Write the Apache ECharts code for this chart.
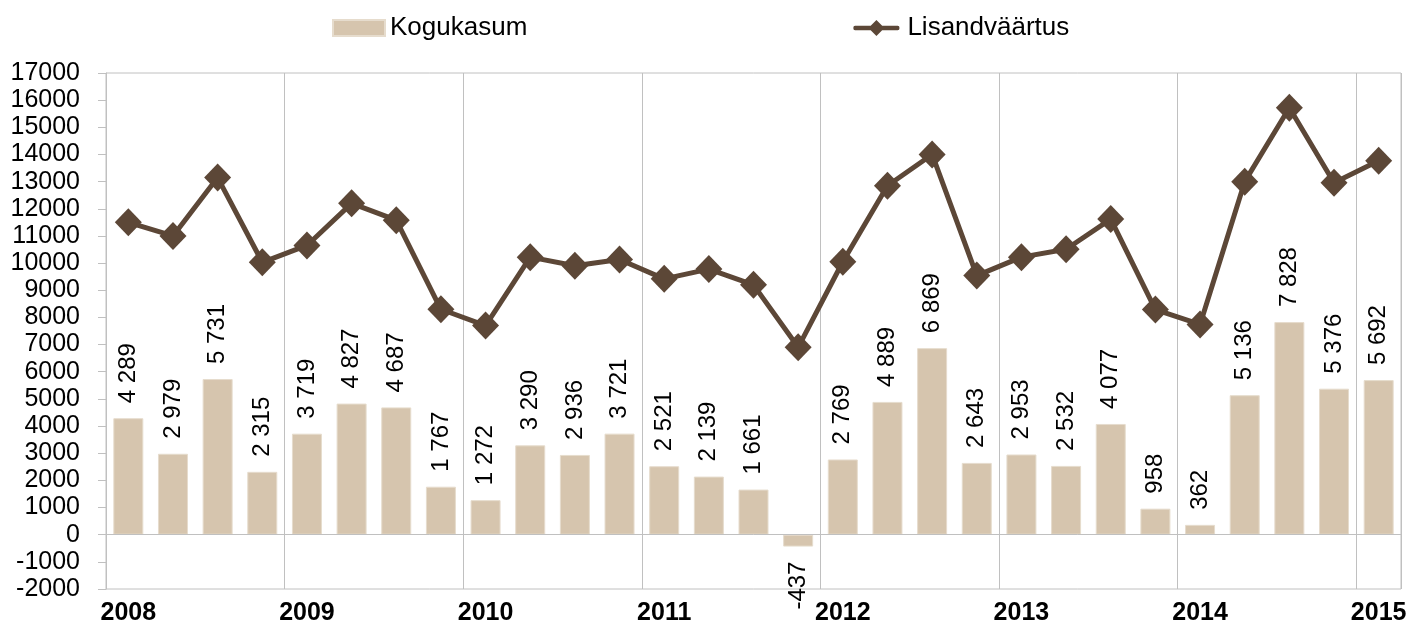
<!DOCTYPE html>
<html>
<head>
<meta charset="utf-8">
<script src="https://cdn.jsdelivr.net/npm/echarts@6/dist/echarts.min.js"></script>
<style>
  html, body { margin: 0; padding: 0; background: #fff; }
  #chart { width: 1410px; height: 626px; }
</style>
</head>
<body>
<div id="chart"></div>
<script>
// kvartalid 2008 I ... 2015 I
var years = ['2008', '2009', '2010', '2011', '2012', '2013', '2014', '2015'];
var quarters = [];
for (var y = 0; y < years.length; y++) {
    for (var q = 1; q <= 4; q++) {
        if (years[y] == '2015' && q > 1) break;
        quarters.push(years[y] + ' Q' + q);
    }
}

var kogukasum = [
    4289, 2979, 5731, 2315,
    3719, 4827, 4687, 1767,
    1272, 3290, 2936, 3721,
    2521, 2139, 1661, -437,
    2769, 4889, 6869, 2643,
    2953, 2532, 4077, 958,
    362, 5136, 7828, 5376,
    5692
];

var lisandvaartus = [
    11500, 11000, 13150, 10030,
    10650, 12200, 11580, 8300,
    7700, 10220, 9900, 10130,
    9420, 9780, 9200, 6900,
    10050, 12850, 14000, 9540,
    10220, 10510, 11620, 8290,
    7740, 13000, 15720, 12960,
    13770
];

var yMin = -2000, yMax = 17000, yStep = 1000;

var textFont = '"Liberation Sans", Arial, sans-serif';
var barColor = '#d6c5ae';
var lineColor = '#5c4737';
var gridColor = '#c0c0c0';

function fmt(v) {
    var s = String(Math.abs(v)).replace(/\B(?=(\d{3})+(?!\d))/g, ' ');
    return (v < 0 ? '-' : '') + s;
}

// negatiivse tulba silt läheb tulba alla
var barData = kogukasum.map(function (v) {
    if (v < 0) {
        return {
            value: v,
            label: { position: 'bottom', align: 'right' }
        };
    }
    return v;
});

var chart = echarts.init(document.getElementById('chart'));

var option = {
    backgroundColor: '#fff',
    animation: false,
    textStyle: { fontFamily: textFont },
    legend: {
        left: 332,
        top: 15,
        padding: 0,
        itemWidth: 52,
        itemHeight: 16,
        itemGap: 326,
        textStyle: { fontSize: 26, color: '#000', fontFamily: textFont },
        data: [
            { name: 'Kogukasum', icon: 'rect' },
            // joon + romb legendis
            { name: 'Lisandväärtus', icon: 'path://M2,6.5L50,6.5Q52,6.5 52,9Q52,11.5 50,11.5L2,11.5Q0,11.5 0,9Q0,6.5 2,6.5Z M26,0L35,9L26,18L17,9Z' }
        ]
    },
    grid: {
        left: 106,
        right: 9,
        top: 73,
        bottom: 37,
        show: true,
        borderColor: gridColor,
        borderWidth: 1
    },
    xAxis: {
        type: 'category',
        data: quarters,
        boundaryGap: true,
        axisLine: { show: false, onZero: false },
        axisTick: { show: false },
        splitLine: {
            show: true,
            interval: 3,
            lineStyle: { color: gridColor, width: 1 }
        },
        axisLabel: {
            interval: 3,
            margin: 12,
            fontSize: 25,
            fontWeight: 'bold',
            color: '#000',
            fontFamily: textFont,
            formatter: function (val) {
                return val.substring(0, 4);
            }
        }
    },
    yAxis: {
        type: 'value',
        min: yMin,
        max: yMax,
        interval: yStep,
        axisLine: { show: true, lineStyle: { color: gridColor } },
        axisTick: { show: true, length: 8, lineStyle: { color: gridColor } },
        splitLine: { show: false },
        axisLabel: {
            margin: 26,
            fontSize: 25,
            color: '#000',
            fontFamily: textFont,
            formatter: function (v) { return String(v); }
        }
    },
    series: [
        {
            name: 'Kogukasum',
            type: 'bar',
            barWidth: 30,
            data: barData,
            itemStyle: { color: barColor, borderColor: '#e6dccd', borderWidth: 1 },
            label: {
                show: true,
                position: 'top',
                rotate: 90,
                align: 'left',
                verticalAlign: 'middle',
                distance: 15,
                fontSize: 24,
                color: '#000',
                fontFamily: textFont,
                formatter: function (p) { return fmt(p.value); }
            },
            markLine: {
                silent: true,
                symbol: 'none',
                label: { show: false },
                lineStyle: { color: gridColor, width: 1, type: 'solid' },
                data: [{ yAxis: 0 }]
            },
            z: 2
        },
        {
            name: 'Lisandväärtus',
            type: 'line',
            data: lisandvaartus,
            symbol: 'diamond',
            symbolSize: [27, 28],
            itemStyle: { color: lineColor },
            lineStyle: { color: lineColor, width: 5 },
            z: 5
        }
    ]
};

chart.setOption(option);
window.addEventListener('resize', function () {
    chart.resize();
});
</script>
</body>
</html>
